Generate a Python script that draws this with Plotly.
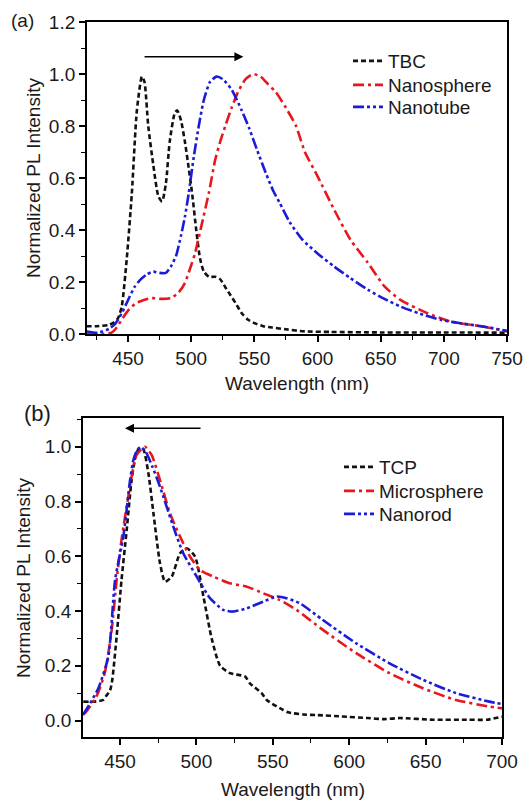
import plotly.graph_objects as go

# ---------------- Panel (a) data ----------------
tbc_wl = [417, 425, 435, 439, 442, 445, 449, 453, 457, 461, 463, 466, 470, 474, 477, 480, 483, 487, 489,
          492, 495, 498, 501, 504, 507, 510, 514, 519, 523, 527, 531, 535, 540, 545, 551, 557, 564, 575,
          590, 610, 650, 700, 750]
tbc_v = [0.03, 0.03, 0.035, 0.045, 0.06, 0.105, 0.29, 0.54, 0.86, 0.99, 0.97, 0.80, 0.65, 0.53, 0.51,
         0.58, 0.74, 0.85, 0.86, 0.82, 0.74, 0.64, 0.53, 0.40, 0.29, 0.24, 0.22, 0.22, 0.21, 0.18, 0.15,
         0.12, 0.08, 0.055, 0.04, 0.03, 0.025, 0.018, 0.01, 0.008, 0.006, 0.006, 0.005]

tube_wl = [417, 426, 435, 440, 445, 450, 455, 460, 465, 470, 475, 480, 484, 488, 492, 495, 498, 502, 506,
           510, 515, 520, 525, 532, 540, 546, 552, 559, 565, 570, 578, 588, 600, 613, 626, 640, 653, 666,
           680, 698, 715, 732, 750]
tube_v = [0.01, 0.005, 0.02, 0.04, 0.08, 0.13, 0.18, 0.21, 0.23, 0.24, 0.235, 0.235, 0.26, 0.30, 0.38,
          0.45, 0.54, 0.68, 0.80, 0.90, 0.97, 0.99, 0.98, 0.94, 0.86, 0.79, 0.71, 0.62, 0.55, 0.505, 0.43,
          0.363, 0.31, 0.26, 0.215, 0.17, 0.135, 0.105, 0.08, 0.054, 0.04, 0.028, 0.012]

sphere_wl = [417, 430, 437, 441, 445, 450, 456, 462, 469, 476, 484, 490, 495, 499, 503, 508, 514, 519,
             523, 527, 532, 537, 543, 549, 555, 561, 567, 575, 583, 590, 600, 613, 626, 640, 653, 666,
             687, 706, 732, 750]
sphere_v = [0.0, 0.0, 0.005, 0.025, 0.055, 0.09, 0.118, 0.13, 0.138, 0.135, 0.138, 0.16, 0.196, 0.25,
            0.31, 0.414, 0.543, 0.67, 0.74, 0.80, 0.87, 0.93, 0.98, 1.0, 0.99, 0.96, 0.93, 0.87, 0.80,
            0.70, 0.607, 0.48, 0.363, 0.273, 0.183, 0.13, 0.08, 0.047, 0.028, 0.01]

# ---------------- Panel (b) data ----------------
tcp_wl = [426, 433, 439, 441, 443.5, 445, 447.8, 451, 454.4, 457.6, 460, 462, 465, 468.6, 471.9, 476.2,
          479.5, 483.9, 489.3, 493.7, 499.1, 504.6, 510, 515.5, 522, 531.8, 535, 542.7, 546, 554.6, 560,
          570, 579, 595, 612, 623, 633, 655, 677, 690, 700]
tcp_v = [0.069, 0.069, 0.075, 0.09, 0.11, 0.15, 0.306, 0.513, 0.696, 0.878, 0.96, 0.99, 0.994, 0.903,
         0.757, 0.574, 0.507, 0.526, 0.611, 0.629, 0.599, 0.453, 0.30, 0.20, 0.173, 0.161, 0.136, 0.10,
         0.075, 0.045, 0.03, 0.022, 0.02, 0.015, 0.009, 0.005, 0.009, 0.003, 0.003, 0.003, 0.014]

micro_wl = [425.8, 427, 434.6, 440, 444.6, 447.8, 451, 454.4, 457.6, 460.9, 466.3, 470.7, 476.2, 482.7,
            489.3, 495.8, 502.3, 511, 522, 533, 543.7, 554.6, 565.5, 582.8, 604.6, 626.4, 648.2, 670,
            691.8, 700]
micro_v = [0.025, 0.027, 0.088, 0.173, 0.331, 0.513, 0.66, 0.781, 0.89, 0.97, 1.0, 0.97, 0.878, 0.757,
           0.672, 0.599, 0.55, 0.526, 0.501, 0.489, 0.465, 0.44, 0.404, 0.331, 0.246, 0.173, 0.118,
           0.075, 0.051, 0.045]

rod_wl = [425.8, 430.5, 436, 442.4, 446.8, 452.2, 456.6, 458.7, 461, 463.6, 467, 471, 476.2, 484.9,
          491.4, 500.2, 508.9, 517.6, 524, 533, 543.7, 552.5, 559, 567.8, 582.8, 604.6, 626.4, 648.2,
          670, 691.8, 700]
rod_v = [0.02, 0.063, 0.12, 0.234, 0.513, 0.672, 0.878, 0.95, 0.985, 1.0, 0.98, 0.93, 0.854, 0.708,
         0.611, 0.526, 0.447, 0.404, 0.398, 0.41, 0.434, 0.453, 0.447, 0.428, 0.367, 0.282, 0.209, 0.149,
         0.10, 0.069, 0.06]

BLACK = "#111111"
RED = "#e8171d"
BLUE = "#1b1bd8"
DASH = "5px,3px"
DASHDOT = "11px,4px,3px,4px"
DASHDOTDOT = "11px,3px,3px,3px,3px,3px"
FONT = "Liberation Sans, Arial, sans-serif"
TXT = "#1a1a1a"

fig = go.Figure()

def add(x, y, name, color, dash, xa, ya, legend):
    fig.add_trace(go.Scatter(x=x, y=y, name=name, mode="lines", xaxis=xa, yaxis=ya, legend=legend,
                             line=dict(color=color, dash=dash, width=2.6, shape="spline", smoothing=0.6)))

add(tbc_wl, tbc_v, "TBC", BLACK, DASH, "x", "y", "legend")
add(sphere_wl, sphere_v, "Nanosphere", RED, DASHDOT, "x", "y", "legend2")
add(tube_wl, tube_v, "Nanotube", BLUE, DASHDOTDOT, "x", "y", "legend3")
add(tcp_wl, tcp_v, "TCP", BLACK, DASH, "x2", "y2", "legend4")
add(micro_wl, micro_v, "Microsphere", RED, DASHDOT, "x2", "y2", "legend5")
add(rod_wl, rod_v, "Nanorod", BLUE, DASHDOTDOT, "x2", "y2", "legend6")

axis_common = dict(showline=True, linecolor="black", linewidth=1.8, mirror=True, showgrid=False,
                   zeroline=False, ticks="outside", ticklen=6, tickwidth=1.6, tickcolor="black",
                   automargin=False,
                   tickfont=dict(family=FONT, size=19, color=TXT))


def leg(x_px, row_center_px):
    return dict(x=x_px / 531, y=1 - (row_center_px - 20) / 800, xanchor="left", yanchor="top",
                bgcolor="rgba(0,0,0,0)", font=dict(family=FONT, size=19, color=TXT), borderwidth=0)


fig.update_layout(
    template="none",
    width=531, height=800,
    margin=dict(l=0, r=0, t=0, b=0, autoexpand=False),
    paper_bgcolor="white", plot_bgcolor="white",
    font=dict(family=FONT, size=19, color=TXT),
    xaxis=dict(domain=[0.1638, 0.9548], anchor="y", range=[417.5, 750], tick0=450, dtick=50,
               minor=dict(ticks="outside", ticklen=4, tickwidth=1.4, dtick=25, tick0=450, tickcolor="black"),
               **axis_common),
    yaxis=dict(domain=[0.5825, 0.9725], anchor="x", range=[0, 1.2], dtick=0.2, tickformat=".1f",
               minor=dict(ticks="outside", ticklen=4, tickwidth=1.4, dtick=0.1, tickcolor="black"),
               **axis_common),
    xaxis2=dict(domain=[0.1563, 0.9454], anchor="y2", range=[425.8, 700], tick0=450, dtick=50,
                minor=dict(ticks="outside", ticklen=4, tickwidth=1.4, dtick=25, tick0=450, tickcolor="black"),
                **axis_common),
    yaxis2=dict(domain=[0.0788, 0.4775], anchor="x2", range=[-0.06, 1.105], tick0=0, dtick=0.2,
                tickformat=".1f",
                minor=dict(ticks="outside", ticklen=4, tickwidth=1.4, dtick=0.1, tick0=0, tickcolor="black"),
                **axis_common),
    legend=leg(348, 62),
    legend2=leg(348, 86),
    legend3=leg(348, 108),
    legend4=leg(339, 468),
    legend5=leg(339, 492),
    legend6=leg(339, 515),
    showlegend=True,
)

ann_font = dict(family=FONT, size=19, color=TXT)
annotations = [
    dict(text="(a)", x=22, y=21, showarrow=False, font=dict(family=FONT, size=19, color=TXT)),
    dict(text="(b)", x=37, y=414, showarrow=False, font=dict(family=FONT, size=22, color=TXT)),
    dict(text="Normalized PL Intensity", x=33, y=178, textangle=-90, showarrow=False, font=ann_font),
    dict(text="Normalized PL Intensity", x=23, y=578, textangle=-90, showarrow=False, font=ann_font),
    dict(text="Wavelength (nm)", x=297, y=383, showarrow=False, font=ann_font),
    dict(text="Wavelength (nm)", x=293, y=789, showarrow=False, font=ann_font),
]
# convert pixel positions to paper coordinates
for a in annotations:
    a["x"] = a["x"] / 531
    a["y"] = 1 - a["y"] / 800
    a["xref"] = "paper"
    a["yref"] = "paper"
    a["xanchor"] = "center"
    a["yanchor"] = "middle"

# arrows (in data coordinates)
annotations.append(dict(x=541.3, y=1.066, ax=461.9, ay=1.066, xref="x", yref="y", axref="x", ayref="y",
                        showarrow=True, arrowhead=2, arrowsize=1.2, arrowwidth=1.5, arrowcolor="black", text=""))
annotations.append(dict(x=453.3, y=1.068, ax=503.7, ay=1.068, xref="x2", yref="y2", axref="x2", ayref="y2",
                        showarrow=True, arrowhead=2, arrowsize=1.2, arrowwidth=1.5, arrowcolor="black", text=""))

fig.update_layout(annotations=annotations)

fig.write_html(
    "out.html",
    config={"displayModeBar": False},
    post_script="document.body.style.margin='0';document.documentElement.style.overflow='hidden';"
                "document.body.style.overflow='hidden';",
)
